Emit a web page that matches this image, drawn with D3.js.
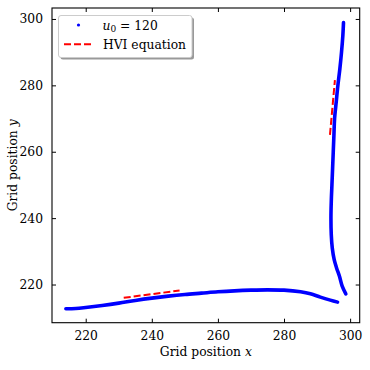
<!DOCTYPE html>
<html><head><meta charset="utf-8">
<script src="https://cdn.jsdelivr.net/npm/d3@7"></script>
<style>
html,body{margin:0;padding:0;background:#fff;}
svg{display:block;}
</style></head>
<body>
<script>
// Trajectory (u0 = 120): lower branch
const branchLowX = [214.0,217.0,220.0,225.0,230.0,235.0,240.0,245.0,250.0,255.0,260.0,265.0,270.0,275.0,280.0,285.0,288.0,291.0,294.0,296.2];
const branchLowY = [212.7,212.8,213.1,213.7,214.4,215.2,215.9,216.5,217.0,217.4,217.8,218.1,218.3,218.4,218.3,217.8,217.2,216.2,215.3,214.7];
// Trajectory (u0 = 120): right branch
const branchRightX = [298.7,297.6,296.8,295.9,295.2,294.6,294.3,294.2,294.3,294.5,294.7,294.9,295.1,295.3,295.8,296.3,296.9,297.4,297.8,298.0];
const branchRightY = [217.2,219.5,222.4,225.0,227.4,231.0,235.0,240.0,245.0,250.0,255.0,260.0,265.0,270.0,275.0,280.0,285.0,290.0,295.0,298.9];
// HVI equation segments
const hviLowX = [231.5,248.4];
const hviLowY = [216.0,218.2];
const hviRightX = [293.9,295.4];
const hviRightY = [265.1,281.6];
// Ticks
const xTicks = [220,240,260,280,300];
const yTicks = [220,240,260,280,300];
const xDomain = [209.8,302.9];
const yDomain = [208.5,303.3];

const W = 370, H = 370;
const m = {left:52, right:10.3, top:8, bottom:47.3};
const FONT = "DejaVu Serif";
const svg = d3.select("body").append("svg").attr("width",W).attr("height",H)
  .style("font-family", FONT);
const x = d3.scaleLinear().domain(xDomain).range([m.left, W-m.right]);
const y = d3.scaleLinear().domain(yDomain).range([H-m.bottom, m.top]);

const fs = 12.3;
// axes with inward ticks
const gB = svg.append("g").attr("transform",`translate(0,${H-m.bottom})`)
  .call(d3.axisBottom(x).tickValues(xTicks).tickSizeInner(-4).tickSizeOuter(0).tickPadding(9));
const gT = svg.append("g").attr("transform",`translate(0,${m.top})`)
  .call(d3.axisTop(x).tickValues(xTicks).tickSizeInner(-4).tickSizeOuter(0).tickFormat(""));
const gL = svg.append("g").attr("transform",`translate(${m.left},0)`)
  .call(d3.axisLeft(y).tickValues(yTicks).tickSizeInner(-4).tickSizeOuter(0).tickPadding(9));
const gR = svg.append("g").attr("transform",`translate(${W-m.right},0)`)
  .call(d3.axisRight(y).tickValues(yTicks).tickSizeInner(-4).tickSizeOuter(0).tickFormat(""));
[gB,gT,gL,gR].forEach(g=>{
  g.attr("font-family",FONT).attr("font-size",fs);
  g.select(".domain").remove();
  g.selectAll(".tick line").attr("stroke","#000").attr("stroke-width",1);
  g.selectAll(".tick text").attr("font-family",FONT).attr("font-size",fs).attr("fill","#000");
});
gB.selectAll(".tick text").attr("dy","0.71em");

// frame
svg.append("rect").attr("x",m.left).attr("y",m.top)
  .attr("width",W-m.left-m.right).attr("height",H-m.top-m.bottom)
  .attr("fill","none").attr("stroke","#000").attr("stroke-width",1.1);

svg.append("clipPath").attr("id","c").append("rect")
  .attr("x",m.left).attr("y",m.top).attr("width",W-m.left-m.right).attr("height",H-m.top-m.bottom);
const plot = svg.append("g").attr("clip-path","url(#c)");

const line = d3.line().x(d=>x(d[0])).y(d=>y(d[1])).curve(d3.curveCatmullRom);
const low = d3.zip(branchLowX, branchLowY);
const right = d3.zip(branchRightX, branchRightY);
[low,right].forEach(pts=>{
  plot.append("path").attr("d",line(pts)).attr("fill","none")
    .attr("stroke","#0000ff").attr("stroke-width",3.6).attr("stroke-linecap","round");
});
[[hviLowX,hviLowY],[hviRightX,hviRightY]].forEach(([xs,ys])=>{
  plot.append("path").attr("d",d3.line().x(d=>x(d[0])).y(d=>y(d[1]))(d3.zip(xs,ys)))
    .attr("fill","none").attr("stroke","#ff0000").attr("stroke-width",2)
    .attr("stroke-dasharray","7,3");
});

// axis labels
const xl = svg.append("text").attr("x",(m.left+W-m.right)/2).attr("y",355.5)
  .attr("text-anchor","middle").attr("font-size",fs).attr("font-family",FONT);
xl.append("tspan").text("Grid position ");
xl.append("tspan").attr("font-style","italic").text("x");
const yl = svg.append("text").attr("transform",`translate(16.5,${(m.top+H-m.bottom)/2}) rotate(-90)`)
  .attr("text-anchor","middle").attr("font-size",fs).attr("font-family",FONT);
yl.append("tspan").text("Grid position ");
yl.append("tspan").attr("font-style","italic").text("y");

// legend
const lg = svg.append("g").attr("font-family",FONT);
lg.append("rect").attr("x",60.5).attr("y",17.5).attr("width",133.5).attr("height",42)
  .attr("rx",2.5).attr("fill","#999");
lg.append("rect").attr("x",58.5).attr("y",15.5).attr("width",133.5).attr("height",42)
  .attr("rx",2.5).attr("fill","#fff").attr("stroke","#ccc").attr("stroke-width",1);
lg.append("circle").attr("cx",78.5).attr("cy",25).attr("r",1.6).attr("fill","#0000ff");
const t1 = lg.append("text").attr("x",102.5).attr("y",29.5).attr("font-size",fs);
t1.append("tspan").attr("font-style","italic").text("u");
t1.append("tspan").attr("font-size",9).attr("dy",2.5).text("0");
t1.append("tspan").attr("dy",-2.5).text(" = 120");
lg.append("line").attr("x1",64).attr("x2",92.5).attr("y1",44.3).attr("y2",44.3)
  .attr("stroke","#ff0000").attr("stroke-width",2).attr("stroke-dasharray","7,3");
lg.append("text").attr("x",103).attr("y",49.3).attr("font-size",fs).text("HVI equation");
</script>
</body></html>
